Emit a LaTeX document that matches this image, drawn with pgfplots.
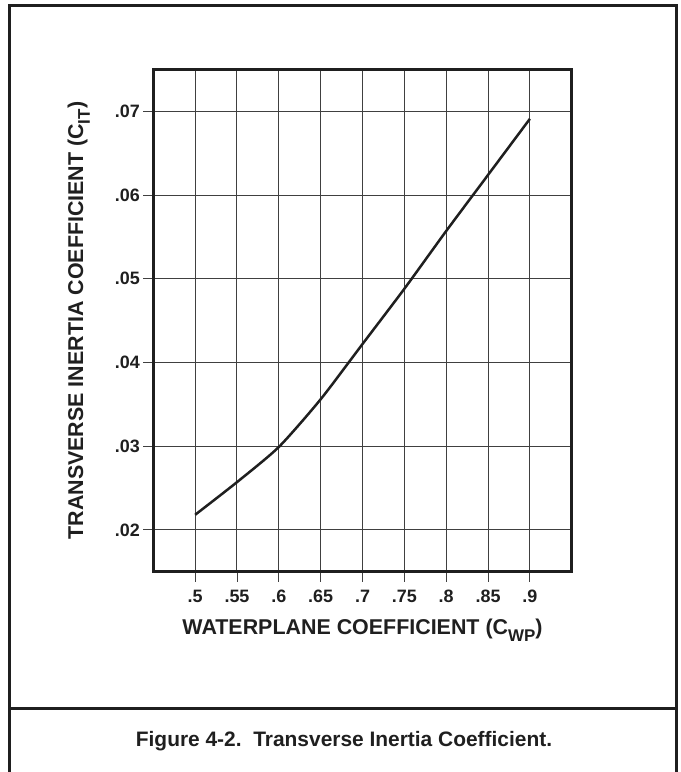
\documentclass[border=0pt]{standalone}
\usepackage{fontspec}
\setmainfont{Liberation Sans}
\usepackage{pgfplots}
\pgfplotsset{compat=1.18}
\newcommand\sub[1]{\raisebox{-0.32em}{\fontsize{17}{17}\selectfont #1}}
\begin{document}
\begin{tikzpicture}[x=1bp,y=1bp]
\useasboundingbox (0,0) rectangle (681,772);
\draw[line width=2.7bp, black!88] (9.3,-10) -- (9.3,766.7) -- (676.7,766.7) -- (676.7,-10);
\draw[line width=2.7bp, black!88] (9.3,63.7) -- (676.7,63.7);
\node[anchor=base, font=\bfseries\fontsize{21}{25}\selectfont, text=black!88] at (344,25) {Figure 4-2.\ \ Transverse Inertia Coefficient.};
\begin{axis}[
  at={(153.3bp,200.3bp)}, anchor=south west,
  scale only axis, width=418.4bp, height=502.2bp,
  xmin=0.45, xmax=0.95, ymin=0.015, ymax=0.075,
  scaled x ticks=false, scaled y ticks=false,
  xtick={0.5,0.55,0.6,0.65,0.7,0.75,0.8,0.85,0.9},
  xticklabels={.5,.55,.6,.65,.7,.75,.8,.85,.9},
  ytick={0.02,0.03,0.04,0.05,0.06,0.07},
  yticklabels={.02,.03,.04,.05,.06,.07},
  tick pos=left,
  tick align=outside, major tick length=10bp,
  tick style={black!75, line width=0.9bp},
  axis line style={line width=2.6bp, black!88},
  grid=major, major grid style={black!75, line width=1bp},
  ticklabel style={font=\bfseries\fontsize{18}{21}\selectfont, text=black!88},
  xticklabel style={yshift=-5bp},
  label style={font=\bfseries\fontsize{21.5}{24}\selectfont, text=black!88},
  xlabel={WATERPLANE COEFFICIENT (C\sub{WP})},
  ylabel={TRANSVERSE INERTIA COEFFICIENT (C\sub{IT})},
  xlabel style={at={(axis description cs:0.5,-0.1245)}, anchor=base},
  ylabel style={at={(axis description cs:-0.168,0.5)}, anchor=base},
]
\addplot[smooth, tension=0.4, line width=2.5bp, black!88] coordinates {
  (0.5,0.0218) (0.55,0.0257) (0.6,0.0299) (0.65,0.0356)
  (0.7,0.0422) (0.75,0.0488) (0.8,0.0557) (0.85,0.0624) (0.9,0.0691)
};
\end{axis}
\end{tikzpicture}
\end{document}
